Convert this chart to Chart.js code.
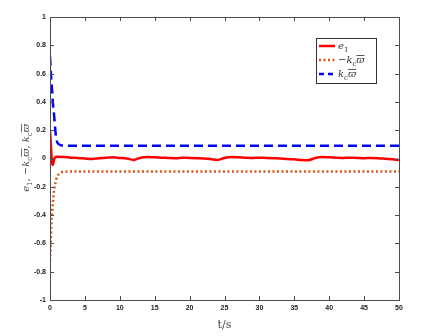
<!DOCTYPE html>
<html>
<head>
<meta charset="utf-8">
<script src="https://cdn.jsdelivr.net/npm/chart.js@4.4.1/dist/chart.umd.min.js"></script>
<style>
  html, body { margin: 0; padding: 0; background: #fff; }
  #wrap { width: 433px; height: 336px; }
</style>
</head>
<body>
<div id="wrap"><canvas id="chart" width="433" height="336"></canvas></div>
<script>
// Data
const tE1 = [0, 0.1, 0.2, 0.3, 0.4, 0.5, 0.6, 0.8, 1, 2, 3, 4, 5, 6, 7, 8, 9, 10, 11, 12, 13, 14, 15, 16, 17, 18, 19, 20,
  21, 22, 23, 24, 25, 26, 27, 28, 29, 30, 31, 32, 33, 34, 35, 36, 37, 38, 39, 40, 41, 42, 43, 44, 45, 46, 47, 48, 49, 50];
const e1 = [0.2, 0.12, 0.03, -0.03, -0.045, -0.03, -0.005, 0.01, 0.012, 0.01, 0.006, 0.004, 0.0, -0.004, 0.002, 0.006, 0.008, 0.004, 0.0, -0.01,
  0.006, 0.01, 0.008, 0.006, 0.004, 0.002, 0.006, 0.004, 0.002, 0.0, -0.004, -0.01, 0.004, 0.01, 0.008, 0.006, 0.004, 0.006,
  0.004, 0.002, 0.0, -0.004, -0.006, -0.01, -0.012, 0.004, 0.01, 0.008, 0.006, 0.004, 0.006, 0.004, 0.002, 0.004, 0.002, -0.002, -0.006, -0.01];

const tK = [0, 0.1, 0.2, 0.3, 0.4, 0.6, 0.8, 1.0, 1.3, 1.7, 2, 5, 10, 20, 30, 40, 50];
const kPos = [0.72, 0.62, 0.55, 0.48, 0.4, 0.3, 0.18, 0.12, 0.1, 0.092, 0.091, 0.09, 0.09, 0.09, 0.09, 0.09, 0.09];
const kNeg = [-0.72, -0.6, -0.45, -0.38, -0.32, -0.22, -0.17, -0.13, -0.11, -0.097, -0.093, -0.092, -0.092, -0.092, -0.092, -0.092, -0.092];

const xTicks = [0, 5, 10, 15, 20, 25, 30, 35, 40, 45, 50];
const yTicks = [-1, -0.8, -0.6, -0.4, -0.2, 0, 0.2, 0.4, 0.6, 0.8, 1];

const toPts = (xs, ys) => xs.map((x, i) => ({ x: x, y: ys[i] }));

const AXIS = '#4d4d4d';
const TICKFONT = { family: 'Liberation Sans', size: 7, weight: 'bold' };

// box + inward ticks like MATLAB
const boxPlugin = {
  id: 'box',
  afterDatasetsDraw(chart) {
    const { ctx, chartArea: a, scales: { x, y } } = chart;
    ctx.save();
    ctx.strokeStyle = AXIS;
    ctx.lineWidth = 1;
    ctx.strokeRect(a.left + 0.5, a.top + 0.5, a.right - a.left, a.bottom - a.top);
    ctx.beginPath();
    xTicks.forEach(v => {
      const px = Math.round(x.getPixelForValue(v)) + 0.5;
      ctx.moveTo(px, a.bottom); ctx.lineTo(px, a.bottom - 4);
      ctx.moveTo(px, a.top); ctx.lineTo(px, a.top + 4);
    });
    yTicks.forEach(v => {
      const py = Math.round(y.getPixelForValue(v)) + 0.5;
      ctx.moveTo(a.left, py); ctx.lineTo(a.left + 4, py);
      ctx.moveTo(a.right, py); ctx.lineTo(a.right - 4, py);
    });
    ctx.stroke();
    ctx.restore();
  }
};

// math-style text helper
function drawMath(ctx, x, y, parts, size) {
  let cx = x;
  parts.forEach(p => {
    if (p.sub) {
      ctx.font = `${size * 0.7}px "DejaVu Serif"`;
      ctx.fillText(p.t, cx, y + size * 0.3);
      cx += ctx.measureText(p.t).width;
    } else {
      ctx.font = `${p.up ? '' : 'italic '}${size}px "DejaVu Serif"`;
      ctx.fillText(p.t, cx, y);
      const w = ctx.measureText(p.t).width;
      if (p.bar) {
        ctx.fillRect(cx, y - size * 0.78, w, 0.8);
      }
      cx += w;
    }
  });
  return cx - x;
}

const legendPlugin = {
  id: 'mathLegend',
  afterDraw(chart) {
    const ctx = chart.ctx;
    ctx.save();
    ctx.fillStyle = '#fff';
    ctx.fillRect(316, 38, 60, 45);
    ctx.strokeStyle = '#333';
    ctx.lineWidth = 1;
    ctx.strokeRect(316.5, 38.5, 60, 45);
    const rows = [
      { y: 46, color: '#ff0000', dash: [], parts: [{ t: 'e' }, { t: '1', sub: true }] },
      { y: 60, color: '#d95319', dash: [2, 2.5], parts: [{ t: '\u2212', up: true }, { t: 'k' }, { t: 'c', sub: true }, { t: '\u03d6', bar: true }] },
      { y: 74, color: '#0000ff', dash: [5, 4], parts: [{ t: 'k' }, { t: 'c', sub: true }, { t: '\u03d6', bar: true }] }
    ];
    rows.forEach(r => {
      ctx.strokeStyle = r.color;
      ctx.lineWidth = 2.5;
      ctx.setLineDash(r.dash);
      ctx.beginPath();
      ctx.moveTo(319, r.y); ctx.lineTo(335, r.y);
      ctx.stroke();
      ctx.setLineDash([]);
      ctx.fillStyle = '#333';
      ctx.textBaseline = 'alphabetic';
      drawMath(ctx, 338, r.y + 3, r.parts, 10);
    });
    // y axis title
    ctx.translate(29, 158);
    ctx.rotate(-Math.PI / 2);
    ctx.fillStyle = '#444';
    const yParts = [{ t: 'e' }, { t: '1', sub: true }, { t: ', \u2212', up: true }, { t: 'k' }, { t: 'c', sub: true },
      { t: '\u03d6', bar: true }, { t: ', ', up: true }, { t: 'k' }, { t: 'c', sub: true }, { t: '\u03d6', bar: true }];
    ctx.globalAlpha = 0;
    const w = drawMath(ctx, 0, 0, yParts, 10);
    ctx.globalAlpha = 1;
    drawMath(ctx, -w / 2, 0, yParts, 10);
    ctx.restore();
  }
};

new Chart(document.getElementById('chart'), {
  type: 'line',
  data: {
    datasets: [
      { label: 'e1', data: toPts(tE1, e1), borderColor: '#ff0000', borderWidth: 2.5, cubicInterpolationMode: 'monotone' },
      { label: '-kc', data: toPts(tK, kNeg), borderColor: '#d95319', borderWidth: 2.5, borderDash: [2, 2.5], cubicInterpolationMode: 'monotone' },
      { label: 'kc', data: toPts(tK, kPos), borderColor: '#0000ff', borderWidth: 2.5, borderDash: [9, 5], cubicInterpolationMode: 'monotone' }
    ]
  },
  options: {
    responsive: false,
    animation: false,
    elements: { point: { radius: 0 } },
    layout: { padding: { left: 0, top: 17, right: 34, bottom: 0 } },
    plugins: { legend: { display: false }, tooltip: { enabled: false } },
    scales: {
      x: {
        type: 'linear', min: 0, max: 50,
        afterBuildTicks: s => { s.ticks = xTicks.map(v => ({ value: v })); },
        afterFit: s => { s.height = 36; },
        grid: { display: false, drawTicks: false },
        border: { display: false },
        ticks: { color: '#222', font: TICKFONT, padding: 4, maxRotation: 0 },
        title: { display: true, text: 't/s', color: '#444', font: { family: 'DejaVu Serif', size: 11 }, padding: { top: 1 } }
      },
      y: {
        type: 'linear', min: -1, max: 1,
        afterBuildTicks: s => { s.ticks = yTicks.map(v => ({ value: v })); },
        afterFit: s => { s.width = 50; },
        grid: { display: false, drawTicks: false },
        border: { display: false },
        ticks: { color: '#222', font: TICKFONT, padding: 4, callback: v => String(Math.round(v * 10) / 10) }
      }
    }
  },
  plugins: [boxPlugin, legendPlugin]
});
</script>
</body>
</html>
